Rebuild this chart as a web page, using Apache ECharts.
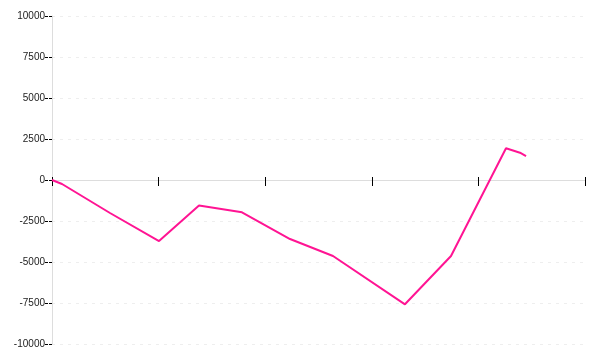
<!DOCTYPE html>
<html>
<head>
<meta charset="utf-8">
<script src="https://cdn.jsdelivr.net/npm/echarts@6/dist/echarts.min.js"></script>
<style>html,body{margin:0;padding:0;background:#fff;}#c{width:600px;height:360px;}</style>
</head>
<body>
<div id="c"></div>
<script>
var xValues = [0, 0.94, 5.44, 10.04, 13.79, 17.82, 22.33, 26.36, 33.11, 37.43, 42.59, 43.90, 44.47];
var yValues = [0, -244, -2012, -3720, -1555, -1970, -3598, -4634, -7580, -4634, 1933, 1665, 1463];
var yTicks = [-10000, -7500, -5000, -2500, 0, 2500, 5000, 7500, 10000];

var data = xValues.map(function (x, i) { return [x, yValues[i]]; });
var chart = echarts.init(document.getElementById('c'), null, {renderer: 'canvas'});
var gridPos = {left: 52, right: 15, top: 16, bottom: 16, containLabel: false};
chart.setOption({
  animation: false,
  backgroundColor: '#fff',
  grid: [gridPos, gridPos],
  xAxis: [{
    gridIndex: 0, type: 'value', min: 0, max: 50, interval: 10,
    axisLine: {show: true, onZero: true, lineStyle: {color: '#ddd', width: 1}},
    axisTick: {show: true, length: 6, lineStyle: {color: '#000', width: 1}},
    axisLabel: {show: false},
    splitLine: {show: false}
  }, {
    gridIndex: 1, type: 'value', min: 0, max: 50, interval: 10, position: 'top',
    axisLine: {show: true, onZero: true, lineStyle: {color: '#ddd', width: 1}},
    axisTick: {show: true, length: 3, lineStyle: {color: '#000', width: 1}},
    axisLabel: {show: false},
    splitLine: {show: false}
  }],
  yAxis: [{
    gridIndex: 0, type: 'value', min: yTicks[0], max: yTicks[yTicks.length - 1], interval: 2500,
    axisLine: {show: true, lineStyle: {color: '#ddd', width: 1}},
    axisTick: {show: true, length: 7, lineStyle: {color: '#000', width: 1, type: [3, 1]}},
    axisLabel: {show: true, color: '#222', fontSize: 10, fontFamily: 'Liberation Sans, Arial, sans-serif', margin: 7,
      formatter: function (v) { return String(v); }},
    splitLine: {show: true, lineStyle: {color: '#eee', type: [3, 5], width: 1}}
  }, {
    gridIndex: 1, type: 'value', min: yTicks[0], max: yTicks[yTicks.length - 1], interval: 2500,
    axisLine: {show: false}, axisTick: {show: false}, axisLabel: {show: false}, splitLine: {show: false}
  }],
  series: [{
    type: 'line', xAxisIndex: 0, yAxisIndex: 0, data: data, showSymbol: false, symbol: 'none',
    lineStyle: {color: '#ff1493', width: 2}, itemStyle: {color: '#ff1493'}
  }]
});
</script>
</body>
</html>
